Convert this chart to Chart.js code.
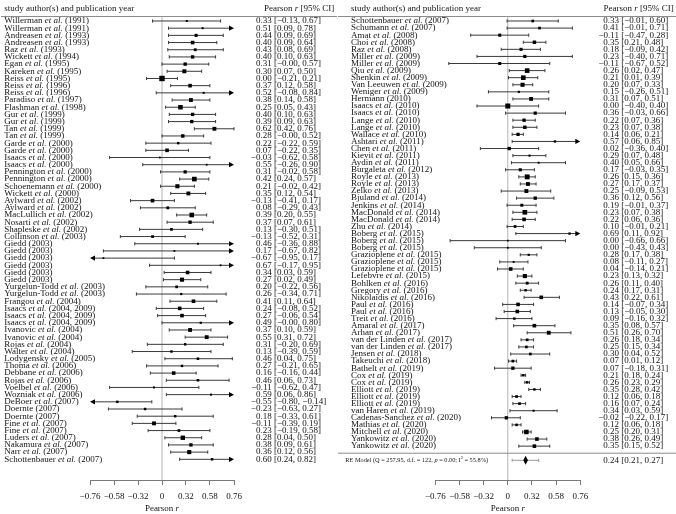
<!DOCTYPE html>
<html>
<head>
<meta charset="utf-8">
<script src="https://cdn.jsdelivr.net/npm/chart.js@4.4.0/dist/chart.umd.min.js"></script>
<style>
html, body { margin: 0; padding: 0; background: #fff; }
#wrap { position: relative; width: 676px; height: 514px; }
.panel { position: absolute; top: 0; width: 338px; height: 514px; }
</style>
</head>
<body>
<div id="wrap">
  <div class="panel" style="left:0"><canvas id="leftChart" width="338" height="514"></canvas></div>
  <div class="panel" style="left:338px"><canvas id="rightChart" width="338" height="514"></canvas></div>
</div>
<script>
// axis ticks (Pearson r, drawn on Fisher z scale)
const tickLabels = [-0.76, -0.58, -0.32, 0, 0.32, 0.58, 0.76];

// left column
const leftStudies = [
  'Willerman et al. (1991)', 'Willerman et al. (1991)', 'Andreasen et al. (1993)', 'Andreasen et al. (1993)',
  'Raz et al. (1993)', 'Wickett et al. (1994)', 'Egan et al. (1995)', 'Kareken et al. (1995)',
  'Reiss et al. (1995)', 'Reiss et al. (1996)', 'Reiss et al. (1996)', 'Paradiso et al. (1997)',
  'Flashman et al. (1998)', 'Gur et al. (1999)', 'Gur et al. (1999)', 'Tan et al. (1999)',
  'Tan et al. (1999)', 'Garde et al. (2000)', 'Garde et al. (2000)', 'Isaacs et al. (2000)',
  'Isaacs et al. (2000)', 'Pennington et al. (2000)', 'Pennington et al. (2000)', 'Schoenemann et al. (2000)',
  'Wickett et al. (2000)', 'Aylward et al. (2002)', 'Aylward et al. (2002)', 'MacLullich et al. (2002)',
  'Nosarti et al. (2002)', 'Shapleske et al. (2002)', 'Collinson et al. (2003)', 'Giedd (2003)',
  'Giedd (2003)', 'Giedd (2003)', 'Giedd (2003)', 'Giedd (2003)',
  'Giedd (2003)', 'Yurgelun-Todd et al. (2003)', 'Yurgelun-Todd et al. (2003)', 'Frangou et al. (2004)',
  'Isaacs et al. (2004, 2009)', 'Isaacs et al. (2004, 2009)', 'Isaacs et al. (2004, 2009)', 'Ivanovic et al. (2004)',
  'Ivanovic et al. (2004)', 'Rojas et al. (2004)', 'Walter et al. (2004)', 'Lodygensky et al. (2005)',
  'Thoma et al. (2006)', 'Debbane et al. (2006)', 'Rojas et al. (2006)', 'Voelbel et al. (2006)',
  'Wozniak et al. (2006)', 'DeBoer et al. (2007)', 'Doernte (2007)', 'Doernte (2007)',
  'Fine et al. (2007)', 'Fine et al. (2007)', 'Luders et al. (2007)', 'Nakamura et al. (2007)',
  'Narr et al. (2007)', 'Schottenbauer et al. (2007)'
];
const leftR = [0.33, 0.51, 0.44, 0.40, 0.43, 0.40, 0.31, 0.30, 0.00, 0.37, 0.52, 0.38, 0.25, 0.40, 0.39, 0.62,
  0.28, 0.22, 0.07, -0.03, 0.55, 0.31, 0.42, 0.21, 0.35, -0.13, 0.08, 0.39, 0.37, 0.13, -0.13, 0.46,
  0.17, -0.67, 0.67, 0.34, 0.27, 0.20, 0.26, 0.41, 0.24, 0.27, 0.49, 0.37, 0.55, 0.31, 0.13, 0.46,
  0.27, 0.16, 0.46, -0.11, 0.59, -0.55, -0.23, 0.18, -0.11, 0.23, 0.28, 0.38, 0.36, 0.60];
const leftLower = [-0.13, 0.09, 0.09, 0.09, 0.08, 0.10, -0.00, 0.07, -0.21, 0.12, -0.08, 0.14, 0.05, 0.10, 0.09, 0.42,
  -0.00, -0.22, -0.22, -0.62, -0.26, -0.02, 0.24, -0.02, 0.12, -0.41, -0.29, 0.20, 0.07, -0.30, -0.52, -0.36,
  -0.67, -0.95, -0.17, 0.03, 0.02, -0.22, -0.34, 0.11, -0.08, -0.06, -0.00, 0.10, 0.31, -0.20, -0.39, 0.04,
  -0.21, -0.16, 0.06, -0.62, 0.06, -0.80, -0.63, -0.33, -0.39, -0.19, 0.04, 0.09, 0.12, 0.24];
const leftUpper = [0.67, 0.78, 0.69, 0.64, 0.69, 0.63, 0.57, 0.50, 0.21, 0.58, 0.84, 0.58, 0.43, 0.63, 0.63, 0.76,
  0.52, 0.59, 0.35, 0.58, 0.90, 0.58, 0.57, 0.42, 0.54, 0.17, 0.43, 0.55, 0.61, 0.51, 0.31, 0.88,
  0.82, 0.17, 0.95, 0.59, 0.49, 0.56, 0.71, 0.64, 0.52, 0.54, 0.80, 0.59, 0.72, 0.69, 0.59, 0.75,
  0.65, 0.44, 0.73, 0.47, 0.86, -0.14, 0.27, 0.61, 0.19, 0.58, 0.50, 0.61, 0.56, 0.82];
const leftWeight = [0.3, 0.3, 0.7, 0.9, 0.6, 0.8, 0.8, 1.05, 1.6, 0.9, 0.3, 1.0, 1.25, 0.8, 0.8, 1.0,
  0.85, 0.45, 0.9, 0.2, 0.2, 0.75, 1.3, 1.1, 1.0, 0.9, 0.6, 1.3, 0.8, 0.55, 0.55, 0.22,
  0.2, 0.2, 0.2, 0.9, 1.1, 0.55, 0.35, 0.9, 0.9, 0.9, 0.35, 1.0, 1.0, 0.45, 0.45, 0.5,
  0.45, 0.9, 0.5, 0.3, 0.3, 0.45, 0.45, 0.45, 1.0, 0.55, 1.2, 0.8, 1.1, 0.45];

// right column
const rightStudies = [
  'Schottenbauer et al. (2007)', 'Schumann et al. (2007)', 'Amat et al. (2008)', 'Choi et al. (2008)',
  'Raz et al. (2008)', 'Miller et al. (2009)', 'Miller et al. (2009)', 'Qiu et al. (2009)',
  'Shenkin et al. (2009)', 'Van Leeuwen et al. (2009)', 'Weniger et al. (2009)', 'Hermann (2010)',
  'Isaacs et al. (2010)', 'Isaacs et al. (2010)', 'Lange et al. (2010)', 'Lange et al. (2010)',
  'Wallace et al. (2010)', 'Ashtari et al. (2011)', 'Chen et al. (2011)', 'Kievit et al. (2011)',
  'Aydin et al. (2011)', 'Burgaleta et al. (2012)', 'Royle et al. (2013)', 'Royle et al. (2013)',
  'Zelko et al. (2013)', 'Bjuland et al. (2014)', 'Jenkins et al. (2014)', 'MacDonald et al. (2014)',
  'MacDonald et al. (2014)', 'Zhu et al. (2014)', 'Boberg et al. (2015)', 'Boberg et al. (2015)',
  'Boberg et al. (2015)', 'Grazioplene et al. (2015)', 'Grazioplene et al. (2015)', 'Grazioplene et al. (2015)',
  'Lefebvre et al. (2015)', 'Bohlken et al. (2016)', 'Gregory et al. (2016)', 'Nikolaidis et al. (2016)',
  'Paul et al. (2016)', 'Paul et al. (2016)', 'Treit et al. (2016)', 'Amaral et al. (2017)',
  'Arhan et al. (2017)', 'van der Linden et al. (2017)', 'van der Linden et al. (2017)', 'Jensen et al. (2018)',
  'Takeuchi et al. (2018)', 'Bathelt et al. (2019)', 'Cox et al. (2019)', 'Cox et al. (2019)',
  'Elliott et al. (2019)', 'Elliott et al. (2019)', 'Elliott et al. (2019)', 'van Haren et al. (2019)',
  'Cadenas-Sanchez et al. (2020)', 'Mathias et al. (2020)', 'Mitchell et al. (2020)', 'Yankowitz et al. (2020)',
  'Yankowitz et al. (2020)'
];
const rightR = [0.33, 0.41, -0.11, 0.35, 0.18, 0.23, -0.11, 0.26, 0.21, 0.20, 0.15, 0.31, 0.00, 0.36, 0.22, 0.23,
  0.14, 0.57, 0.02, 0.29, 0.40, 0.17, 0.26, 0.27, 0.25, 0.36, 0.19, 0.23, 0.22, 0.10, 0.69, 0.00,
  0.00, 0.28, 0.08, 0.04, 0.23, 0.26, 0.24, 0.43, 0.14, 0.13, 0.09, 0.35, 0.51, 0.26, 0.25, 0.30,
  0.07, 0.07, 0.21, 0.26, 0.35, 0.12, 0.16, 0.34, -0.02, 0.12, 0.25, 0.38, 0.35];
const rightLower = [-0.01, -0.01, -0.47, 0.21, -0.09, -0.40, -0.67, 0.02, 0.01, 0.07, -0.26, 0.07, -0.40, -0.03, 0.07, 0.07,
  0.06, 0.06, -0.36, 0.07, 0.05, -0.03, 0.15, 0.17, -0.09, 0.12, -0.01, 0.07, 0.06, -0.01, 0.11, -0.66,
  -0.43, 0.17, -0.11, -0.14, 0.13, 0.11, 0.17, 0.22, -0.07, -0.05, -0.16, 0.08, 0.26, 0.18, 0.15, 0.04,
  0.01, -0.18, 0.18, 0.23, 0.28, 0.06, 0.07, 0.03, -0.22, 0.06, 0.20, 0.26, 0.15];
const rightUpper = [0.60, 0.71, 0.28, 0.48, 0.42, 0.71, 0.52, 0.47, 0.39, 0.33, 0.51, 0.51, 0.40, 0.66, 0.36, 0.38,
  0.21, 0.85, 0.40, 0.48, 0.66, 0.35, 0.36, 0.37, 0.53, 0.56, 0.37, 0.38, 0.36, 0.21, 0.92, 0.66,
  0.43, 0.38, 0.27, 0.21, 0.32, 0.40, 0.31, 0.61, 0.34, 0.30, 0.32, 0.57, 0.70, 0.34, 0.34, 0.52,
  0.12, 0.31, 0.24, 0.29, 0.42, 0.18, 0.24, 0.59, 0.17, 0.18, 0.31, 0.49, 0.52];
const rightWeight = [0.55, 0.55, 0.7, 0.85, 0.7, 0.75, 0.7, 1.3, 1.3, 1.1, 0.35, 1.0, 1.45, 0.75, 0.8, 0.85,
  0.75, 0.4, 0.8, 0.3, 0.25, 0.7, 1.4, 1.0, 1.0, 0.8, 0.65, 1.3, 0.9, 0.55, 0.4, 0.2,
  0.2, 0.35, 0.25, 0.9, 1.1, 0.6, 0.45, 0.9, 0.9, 0.9, 0.45, 0.9, 1.0, 0.55, 0.55, 0.55,
  0.55, 0.8, 0.45, 0.45, 0.45, 0.55, 0.55, 0.3, 0.8, 0.5, 1.25, 0.9, 0.9];

// pooled random-effects model
const pooledR = 0.24;
const pooledCI = [0.21, 0.27];
const pooledPI = [0.06, 0.40];
const modelText = [
  { t: 'RE Model (Q = 257.95, d.f. = 122, ' }, { t: 'p', it: true },
  { t: ' = 0.00; I' }, { t: '2', sup: true }, { t: ' = 55.8%)' }
];

const FONT = 'Liberation Serif';
const allW = leftWeight.concat(rightWeight);
const wMin = Math.min(...allW), wMax = Math.max(...allW);

function fmt(v) {
  const neg = v < 0 || Object.is(v, -0);
  return (neg ? '\u2212' : '') + Math.abs(v).toFixed(2);
}
function tickText(v) {
  if (v === 0) return '0';
  return (v < 0 ? '\u2212' : '') + Math.abs(v).toFixed(2);
}
function font(size, italic) {
  return (italic ? 'italic ' : '') + size + 'px "' + FONT + '"';
}
function drawRich(ctx, segs, x, y, size, align) {
  let total = 0;
  const widths = segs.map(s => {
    ctx.font = font(s.sup ? size * 0.7 : size, s.it);
    const w = ctx.measureText(s.t).width;
    total += w;
    return w;
  });
  let cx = align === 'right' ? x - total : align === 'center' ? x - total / 2 : x;
  ctx.textAlign = 'left';
  segs.forEach((s, i) => {
    ctx.font = font(s.sup ? size * 0.7 : size, s.it);
    ctx.fillText(s.t, cx, s.sup ? y - size * 0.35 : y);
    cx += widths[i];
  });
}
function labelSegs(label) {
  const m = label.match(/^(.*) et al\. (.*)$/);
  if (!m) return [{ t: label }];
  return [{ t: m[1] + ' ' }, { t: 'et al.', it: true }, { t: ' ' + m[2] }];
}

function makePanel(id, p) {
  const rows = p.studies.length;
  const fs = 9;

  const forest = {
    id: 'forest',
    beforeDatasetsDraw(chart) {
      const ctx = chart.ctx, x = chart.scales.x, y = chart.scales.y, a = chart.chartArea;
      ctx.save();
      ctx.lineWidth = 1;
      // header rule
      ctx.strokeStyle = '#8c8c8c';
      ctx.beginPath(); ctx.moveTo(p.ruleFrom, a.top); ctx.lineTo(p.ruleTo, a.top); ctx.stroke();
      // reference line at zero
      const x0 = x.getPixelForValue(0);
      ctx.strokeStyle = '#b4b4b4';
      ctx.beginPath(); ctx.moveTo(x0, a.top); ctx.lineTo(x0, a.bottom); ctx.stroke();
      // confidence intervals
      ctx.strokeStyle = '#3a3a3a';
      ctx.fillStyle = '#000';
      for (let i = 0; i < rows; i++) {
        const py = y.getPixelForValue(i + 1);
        const zl = Math.atanh(p.lo[i]), zh = Math.atanh(p.hi[i]);
        const clipL = zl < x.min - 1e-9, clipR = zh > x.max + 1e-9;
        const xl = x.getPixelForValue(clipL ? x.min : zl);
        const xr = x.getPixelForValue(clipR ? x.max : zh);
        ctx.beginPath();
        ctx.moveTo(clipL ? xl + 4 : xl, py); ctx.lineTo(clipR ? xr - 4 : xr, py);
        if (!clipL) { ctx.moveTo(xl, py - 1.6); ctx.lineTo(xl, py + 1.6); }
        if (!clipR) { ctx.moveTo(xr, py - 1.6); ctx.lineTo(xr, py + 1.6); }
        ctx.stroke();
        if (clipR) {
          ctx.beginPath(); ctx.moveTo(xr, py); ctx.lineTo(xr - 5, py - 2.6); ctx.lineTo(xr - 5, py + 2.6); ctx.closePath(); ctx.fill();
        }
        if (clipL) {
          ctx.beginPath(); ctx.moveTo(xl, py); ctx.lineTo(xl + 5, py - 2.6); ctx.lineTo(xl + 5, py + 2.6); ctx.closePath(); ctx.fill();
        }
      }
      if (p.pooled) {
        const sy = y.getPixelForValue(rows + 1);
        ctx.strokeStyle = '#8c8c8c';
        ctx.beginPath(); ctx.moveTo(p.ruleFrom, sy); ctx.lineTo(p.ruleTo, sy); ctx.stroke();
        const py = y.getPixelForValue(rows + 2);
        const pl = x.getPixelForValue(Math.atanh(pooledPI[0])), pr = x.getPixelForValue(Math.atanh(pooledPI[1]));
        ctx.strokeStyle = '#9a9a9a';
        ctx.beginPath();
        ctx.moveTo(pl, py); ctx.lineTo(pr, py);
        ctx.moveTo(pl, py - 1.6); ctx.lineTo(pl, py + 1.6);
        ctx.moveTo(pr, py - 1.6); ctx.lineTo(pr, py + 1.6);
        ctx.stroke();
        const dl = x.getPixelForValue(Math.atanh(pooledCI[0]));
        const dr = x.getPixelForValue(Math.atanh(pooledCI[1]));
        const dc = x.getPixelForValue(Math.atanh(pooledR));
        ctx.fillStyle = '#000';
        ctx.beginPath();
        ctx.moveTo(dl, py); ctx.lineTo(dc, py - 4.5); ctx.lineTo(dr, py); ctx.lineTo(dc, py + 4.5); ctx.closePath();
        ctx.fill();
      }
      ctx.restore();
    },
    afterDraw(chart) {
      const ctx = chart.ctx, x = chart.scales.x, y = chart.scales.y;
      ctx.save();
      ctx.fillStyle = '#141414';
      ctx.textBaseline = 'middle';
      // headers
      drawRich(ctx, [{ t: 'study author(s) and publication year' }], p.headX, 8.3, fs, 'left');
      drawRich(ctx, [{ t: 'Pearson ' }, { t: 'r', it: true }, { t: ' [95% CI]' }], p.headRight, 8.3, fs, 'right');
      // rows
      for (let i = 0; i < rows; i++) {
        const py = y.getPixelForValue(i + 1);
        drawRich(ctx, labelSegs(p.studies[i]), p.labelX, py, fs, 'left');
        drawRich(ctx, [{ t: fmt(p.r[i]) }], p.estX, py, fs, 'right');
        drawRich(ctx, [{ t: '[' + fmt(p.lo[i]) + ', ' + fmt(p.hi[i]) + ']' }], p.brX, py, fs, 'left');
      }
      if (p.pooled) {
        const py = y.getPixelForValue(rows + 2);
        drawRich(ctx, modelText, p.modelX, py, 6.3, 'left');
        drawRich(ctx, [{ t: fmt(pooledR) }], p.estX, py, fs, 'right');
        drawRich(ctx, [{ t: '[' + fmt(pooledCI[0]) + ', ' + fmt(pooledCI[1]) + ']' }], p.brX, py, fs, 'left');
      }
      // axis title
      drawRich(ctx, [{ t: 'Pearson ' }, { t: 'r', it: true }], x.getPixelForValue(0), 508.5, fs, 'center');
      ctx.restore();
    }
  };

  const points = p.r.map((v, i) => ({ x: Math.atanh(v), y: i + 1 }));
  const radii = p.w.map(w => 3.6 * (0.5 + (w - wMin) / (wMax - wMin)) / Math.SQRT2);

  return new Chart(document.getElementById(id).getContext('2d'), {
    type: 'scatter',
    data: {
      datasets: [{
        data: points,
        pointStyle: 'rect',
        pointRadius: radii,
        pointHoverRadius: radii,
        backgroundColor: '#000',
        borderWidth: 0,
        clip: false
      }]
    },
    options: {
      responsive: false,
      animation: false,
      events: [],
      layout: { padding: { left: p.padLeft, right: p.padRight, top: 16.5, bottom: 0 } },
      plugins: { legend: { display: false }, tooltip: { enabled: false } },
      scales: {
        x: {
          type: 'linear',
          bounds: 'data',
          min: Math.atanh(tickLabels[0]),
          max: Math.atanh(tickLabels[tickLabels.length - 1]),
          afterBuildTicks: s => { s.ticks = tickLabels.map(v => ({ value: Math.atanh(v) })); },
          afterFit: s => { s.height = 34; },
          grid: { drawOnChartArea: false, drawTicks: true, tickLength: 5, color: '#7a7a7a', lineWidth: 1 },
          border: { display: true, color: '#7a7a7a', width: 1 },
          ticks: {
            autoSkip: false, maxRotation: 0, padding: 6, color: '#141414',
            font: { family: FONT, size: fs },
            callback: (v, i) => tickText(tickLabels[i])
          }
        },
        y: {
          type: 'linear', display: false, reverse: true,
          min: p.yMin, max: p.yMax
        }
      }
    },
    plugins: [forest]
  });
}

makePanel('leftChart', {
  studies: leftStudies, r: leftR, lo: leftLower, hi: leftUpper, w: leftWeight,
  padLeft: 90, padRight: 104, yMin: 0.374, yMax: 64.88,
  labelX: 4.3, headX: 4.3, headRight: 334.3, estX: 271.7, brX: 274,
  ruleFrom: 1, ruleTo: 337, pooled: false
});
makePanel('rightChart', {
  studies: rightStudies, r: rightR, lo: rightLower, hi: rightUpper, w: rightWeight,
  padLeft: 97.3, padRight: 95.7, yMin: 0.365, yMax: 65.78,
  labelX: 13, headX: 13, headRight: 335.7, estX: 281, brX: 283.3, modelX: 7.3,
  ruleFrom: 0, ruleTo: 338, pooled: true
});
</script>
</body>
</html>
